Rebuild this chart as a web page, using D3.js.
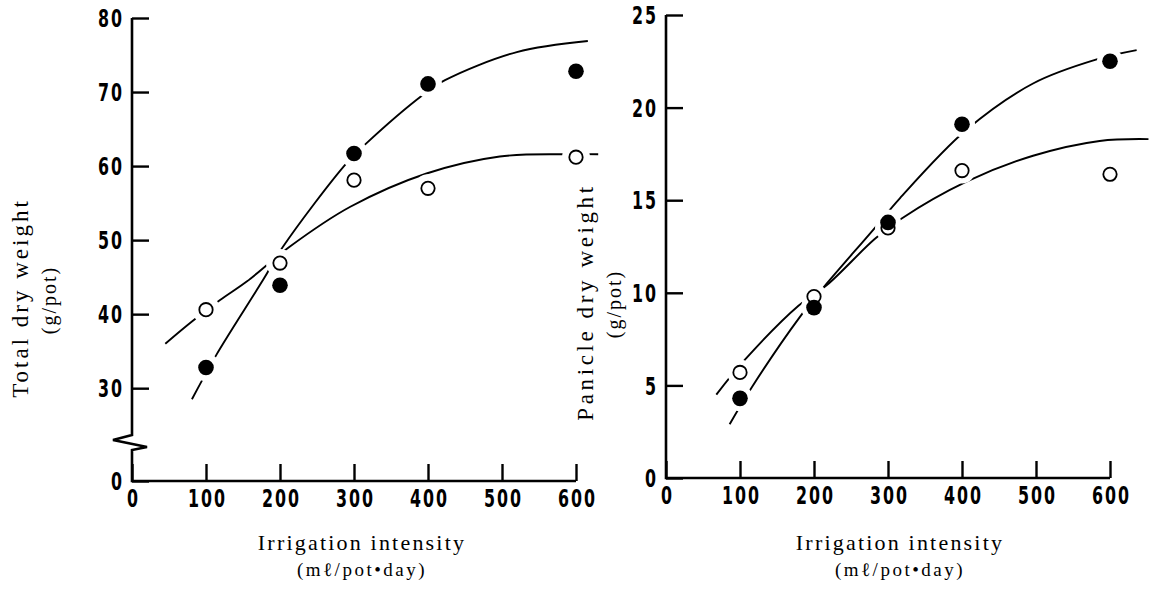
<!DOCTYPE html>
<html>
<head>
<meta charset="utf-8">
<script src="https://cdn.jsdelivr.net/npm/d3@7"></script>
<style>
  body { margin: 0; background: #fff; }
  .tick-label { font-family: "DejaVu Sans", sans-serif; font-weight: bold; font-size: 24px; letter-spacing: 3px; fill: #000; }
  .title { font-family: "Liberation Serif", "DejaVu Serif", serif; fill: #000; }
</style>
</head>
<body>
<svg id="chart"></svg>
<script>
// irrigation levels (ml/pot/day) where the points were measured
const irrigation = [100, 200, 300, 400, 600];

// total dry weight (g/pot)
const totalFilled = [32.8, 43.9, 61.7, 71.1, 72.8];
const totalOpen = [40.6, 46.9, 58.1, 57.0, 61.2];

// panicle dry weight (g/pot)
const panicleFilled = [4.3, 9.2, 13.8, 19.1, 22.5];
const panicleOpen = [5.7, 9.8, 13.5, 16.6, 16.4];

// fitted curves as [irrigation, weight]
const totalFilledCurve = [[81, 28.5], [114, 34.5], [177, 44.6], [204, 49.1], [290, 60.4], [317, 63.1], [393, 69.6], [423, 71.6], [520, 75.4], [616, 76.9]];
const totalOpenCurve = [[45, 36.0], [81, 39.0], [119, 41.9], [155, 44.4], [213, 49.1], [295, 54.5], [398, 59.0], [497, 61.3], [587, 61.6], [630, 61.6]];
const panicleFilledCurve = [[86, 2.9], [116, 4.9], [181, 8.7], [213, 10.3], [280, 13.4], [316, 15.1], [406, 18.8], [496, 21.3], [582, 22.6], [636, 23.1]];
const panicleOpenCurve = [[68, 4.5], [107, 6.4], [179, 9.3], [217, 10.4], [282, 12.9], [318, 14.0], [406, 16.0], [496, 17.4], [586, 18.2], [652, 18.3]];

// tick values
const xTicks = [0, 100, 200, 300, 400, 500, 600];
const totalTicks = [0, 30, 40, 50, 60, 70, 80];
const panicleTicks = [0, 5, 10, 15, 20, 25];

const xTitle = "Irrigation intensity";
const xUnit = "(m\u2113/pot\u2022day)";
const totalTitle = "Total dry weight";
const panicleTitle = "Panicle dry weight";
const yUnit = "(g/pot)";

const width = 1154, height = 593;
const svg = d3.select("#chart").attr("width", width).attr("height", height);

const sx = 0.66; // condensed look for the tick digits

function drawPanel(p) {
    const g = svg.append("g");
    const x0 = p.x.range()[0];

    // y axis, ticks inward, labels on the outside
    const yAxis = g.append("g")
        .attr("transform", "translate(" + x0 + ",0)")
        .call(d3.axisLeft(p.y).tickValues(p.yTicks).tickSize(-17).tickPadding(8).tickFormat(d3.format("d")));
    yAxis.select(".domain").remove();
    yAxis.selectAll(".tick line").attr("stroke-width", 2.4);
    yAxis.selectAll("text")
        .attr("class", "tick-label")
        .attr("transform", "scale(" + sx + ",1)")
        .attr("x", -8 / sx)
        .attr("dy", "0.36em");

    // x axis
    const xAxis = g.append("g")
        .attr("transform", "translate(0," + p.y(0) + ")")
        .call(d3.axisBottom(p.x).tickValues(xTicks).tickSize(-17).tickPadding(9).tickFormat(d3.format("d")));
    xAxis.select(".domain").remove();
    xAxis.selectAll(".tick line").attr("stroke-width", 2.4);
    xAxis.selectAll("text")
        .attr("class", "tick-label")
        .attr("transform", "scale(" + sx + ",1)")
        .attr("dx", "0.07em");

    // axis lines (left one has a break)
    const top = p.y(p.yTicks[p.yTicks.length - 1]);
    const bottom = p.y(0);
    let axisPath;
    if (p.brk) {
        const b = p.y(p.brk);
        axisPath = "M" + x0 + "," + top + "V" + (b - 5) +
            "L" + (x0 - 19) + "," + b +
            "L" + (x0 + 15) + "," + (b + 7) +
            "L" + x0 + "," + (b + 10) +
            "V" + bottom + "H" + p.x.range()[1];
    } else {
        axisPath = "M" + x0 + "," + top + "V" + bottom + "H" + p.x.range()[1];
    }
    g.append("path").attr("d", axisPath)
        .attr("fill", "none").attr("stroke", "#000").attr("stroke-width", 2.6)
        .attr("stroke-linejoin", "miter");

    // fitted curves
    const line = d3.line()
        .x(d => p.x(d[0]))
        .y(d => p.y(d[1]))
        .curve(d3.curveCatmullRom.alpha(0.5));
    [p.filledCurve, p.openCurve].forEach(c => {
        g.append("path").datum(c).attr("d", line)
            .attr("fill", "none").attr("stroke", "#000").attr("stroke-width", 1.9);
    });

    // white halos make the gaps in the curves round the points
    const pts = [];
    irrigation.forEach((v, i) => {
        pts.push({ x: v, y: p.open[i], filled: false });
        pts.push({ x: v, y: p.filled[i], filled: true });
    });
    g.selectAll(".halo").data(pts).enter().append("circle")
        .attr("class", "halo")
        .attr("cx", d => p.x(d.x)).attr("cy", d => p.y(d.y))
        .attr("r", p.halo).attr("fill", "#fff");
    g.selectAll(".pt").data(pts).enter().append("circle")
        .attr("class", "pt")
        .attr("cx", d => p.x(d.x)).attr("cy", d => p.y(d.y))
        .attr("r", d => d.filled ? 7.8 : 6.7)
        .attr("fill", d => d.filled ? "#000" : "#fff")
        .attr("stroke", "#000")
        .attr("stroke-width", d => d.filled ? 0 : 1.8);

    // titles
    g.append("text").attr("class", "title")
        .attr("transform", "translate(" + p.xTitleX + ",550)")
        .attr("text-anchor", "middle")
        .style("font-size", "22px").style("letter-spacing", "2.2px")
        .text(xTitle);
    g.append("text").attr("class", "title")
        .attr("transform", "translate(" + p.xTitleX + ",576)")
        .attr("text-anchor", "middle")
        .style("font-size", "19px").style("letter-spacing", "2.5px")
        .text(xUnit);
    g.append("text").attr("class", "title")
        .attr("transform", "translate(" + p.yTitleX + "," + p.yTitleY + ") rotate(-90)")
        .attr("text-anchor", "middle")
        .style("font-size", "23px").style("letter-spacing", p.yTitleSpacing)
        .text(p.yTitle);
    g.append("text").attr("class", "title")
        .attr("transform", "translate(" + (p.yTitleX + 28) + "," + (p.yTitleY + 2) + ") rotate(-90)")
        .attr("text-anchor", "middle")
        .style("font-size", "20px").style("letter-spacing", "2px")
        .text(yUnit);
}

// left panel: total dry weight, broken y axis
drawPanel({
    x: d3.scaleLinear().domain([0, 600]).range([132, 576]),
    y: d3.scaleLinear().domain([0, 23, 80]).range([481, 440, 18]),
    yTicks: totalTicks,
    brk: 23,
    halo: 14,
    filled: totalFilled, open: totalOpen,
    filledCurve: totalFilledCurve, openCurve: totalOpenCurve,
    xTitleX: 362, yTitleX: 28, yTitleY: 298, yTitleSpacing: "3px",
    yTitle: totalTitle
});

// right panel: panicle dry weight
drawPanel({
    x: d3.scaleLinear().domain([0, 600]).range([666, 1110]),
    y: d3.scaleLinear().domain([0, 25]).range([478, 15]),
    yTicks: panicleTicks,
    brk: null,
    halo: 13,
    filled: panicleFilled, open: panicleOpen,
    filledCurve: panicleFilledCurve, openCurve: panicleOpenCurve,
    xTitleX: 900, yTitleX: 593, yTitleY: 302, yTitleSpacing: "3.6px",
    yTitle: panicleTitle
});
</script>
</body>
</html>
